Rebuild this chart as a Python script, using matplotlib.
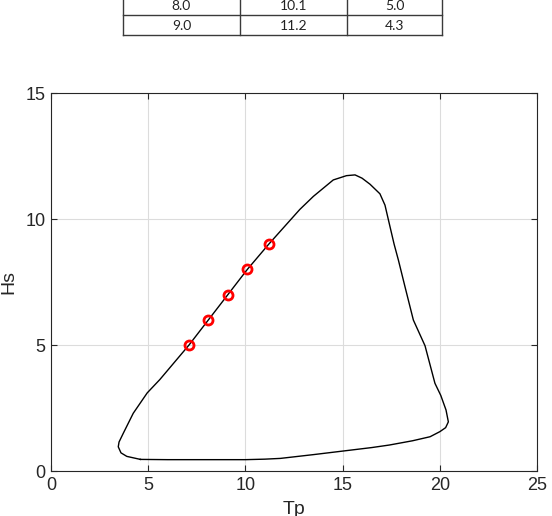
import matplotlib.pyplot as plt
import numpy as np

plt.rcParams['font.family'] = ['Liberation Sans', 'DejaVu Sans']

# table rows shown above the plot (partly cut off at the top)
table_rows = [["8.0", "10.1", "5.0"],
              ["9.0", "11.2", "4.3"]]

# environmental contour (Tp, Hs)
contour_tp = [4.6, 6.0, 8.0, 10.0, 11.0, 11.8, 13.5, 15.0, 16.5, 17.4, 18.6,
              19.5, 20.0, 20.3, 20.44, 20.32, 20.05, 19.75, 19.24, 18.64,
              18.21, 17.87, 17.65, 17.44, 17.18, 16.92, 16.41, 16.0,
              15.64, 15.2, 14.52, 13.5, 12.8, 11.2, 10.1, 9.1, 8.1,
              7.1, 5.6, 4.95, 4.23, 3.72, 3.5, 3.46, 3.6, 3.9, 4.6]
contour_hs = [0.46, 0.45, 0.45, 0.45, 0.47, 0.5, 0.65, 0.79, 0.93, 1.03, 1.2,
              1.36, 1.56, 1.72, 1.95, 2.42, 3.0, 3.48, 4.97, 5.99,
              7.31, 8.37, 9.0, 9.69, 10.55, 11.0, 11.38, 11.62,
              11.75, 11.72, 11.55, 10.9, 10.38, 9.0, 8.0, 7.0, 6.0,
              5.0, 3.63, 3.1, 2.29, 1.5, 1.15, 0.96, 0.72, 0.58, 0.46]

# highlighted points
point_tp = [7.1, 8.1, 9.1, 10.1, 11.2]
point_hs = [5.0, 6.0, 7.0, 8.0, 9.0]

W, H = 552, 516
fig = plt.figure(figsize=(W / 100, H / 100), dpi=100)

# --- table strip at the top ---
tab = fig.add_axes([0, 0, 1, 1])
tab.set_xlim(0, W)
tab.set_ylim(H, 0)
tab.axis('off')
col_edges = [123, 240, 347, 442]
row_edges = [-5, 15, 35]
for r, row in enumerate(table_rows):
    yc = (row_edges[r] + row_edges[r + 1]) / 2
    for c, txt in enumerate(row):
        xc = (col_edges[c] + col_edges[c + 1]) / 2
        tab.text(xc, yc + 1, txt, ha='center', va='center', fontsize=10,
                 family=['Lato', 'DejaVu Sans'], color='#222222')
for y in row_edges[1:]:
    tab.plot([col_edges[0], col_edges[-1]], [y, y], color='#3a3a3a', lw=1)
for x in col_edges:
    tab.plot([x, x], [row_edges[0], row_edges[-1]], color='#3a3a3a', lw=1)

# --- main plot ---
ax = fig.add_axes([51 / W, (H - 471) / H, 486 / W, 378 / H])
ax.plot(contour_tp, contour_hs, color='black', lw=1)
ax.plot(point_tp, point_hs, 'o', mfc='none', mec='red', mew=2, ms=6.5,
        ls='none')

ax.set_xlim(0, 25)
ax.set_ylim(0, 15)
ax.set_xticks([0, 5, 10, 15, 20, 25])
ax.set_yticks([0, 5, 10, 15])
ax.grid(True, color='#dcdcdc', lw=0.8)
ax.set_axisbelow(True)
ax.tick_params(direction='in', length=4, width=0.8, top=True, right=True,
               labelsize=13, colors='#262626', pad=4)
for s in ax.spines.values():
    s.set_color('#262626')
    s.set_linewidth(0.8)
ax.set_xlabel('Tp', fontsize=14, color='#262626', labelpad=5)
ax.set_ylabel('Hs', fontsize=14, color='#262626', labelpad=6)

fig.savefig('out.png', dpi=100)
